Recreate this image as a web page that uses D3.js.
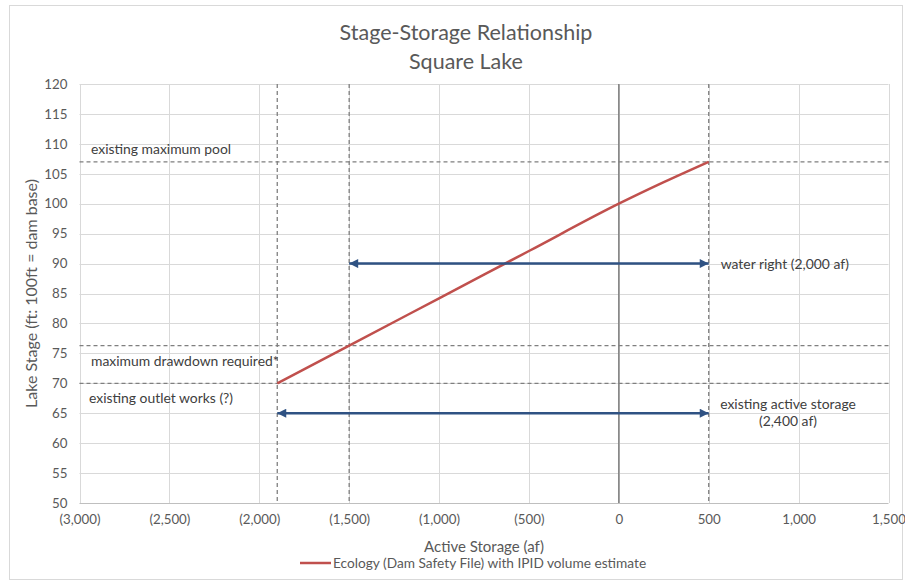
<!DOCTYPE html>
<html><head><meta charset="utf-8">
<script src="https://cdn.jsdelivr.net/npm/d3@7"></script>
<style>body{margin:0;background:#fff}svg{display:block;font-family:Lato,"Open Sans",sans-serif}</style>
</head><body><svg id="c" width="905" height="581"></svg>
<script>
// Data
const storage = [-1900, -1500, -1000, -500, 0, 250, 500];
const stage   = [70, 76.3, 84.2, 92.1, 100, 103.6, 107];
const xTicks = [-3000, -2500, -2000, -1500, -1000, -500, 0, 500, 1000, 1500];
const yTicks = [50, 55, 60, 65, 70, 75, 80, 85, 90, 95, 100, 105, 110, 115, 120];
const vRefs = [-1900, -1500, 500];
const hRefs = [107, 76.3, 70];
const hRefLabels = ["existing maximum pool", "maximum drawdown required*", "existing outlet works (?)"];
const arrows = [{x0: -1500, x1: 500, y: 90}, {x0: -1900, x1: 500, y: 65}];
const seriesName = "Ecology (Dam Safety File) with IPID volume estimate";

const svg = d3.select("#c");
const L = 79.5, R = 888.5, T = 84, B = 503;
const x = d3.scaleLinear().domain([-3000, 1500]).range([L, R]);
const y = d3.scaleLinear().domain([50, 120]).range([B, T]);
const fmt = v => v < 0 ? "(" + d3.format(",")(-v) + ")" : d3.format(",")(v);

// outer border
svg.append("rect").attr("x", 9.5).attr("y", 5.5).attr("width", 893).attr("height", 574)
  .attr("fill", "#fff").attr("stroke", "#d9d9d9");

// title
svg.append("text").attr("x", 466).attr("y", 40).attr("text-anchor", "middle")
  .attr("font-size", 21.5).attr("fill", "#595959").text("Stage-Storage Relationship");
svg.append("text").attr("x", 466).attr("y", 69).attr("text-anchor", "middle")
  .attr("font-size", 21.5).attr("fill", "#595959").text("Square Lake");

// gridlines
const g = svg.append("g");
g.selectAll(".hg").data(yTicks).join("line")
  .attr("x1", L).attr("x2", R).attr("y1", d => Math.round(y(d)) + 0.5).attr("y2", d => Math.round(y(d)) + 0.5)
  .attr("stroke", d => d === 50 ? "#bfbfbf" : "#d9d9d9");
g.selectAll(".vg").data(xTicks).join("line")
  .attr("y1", T).attr("y2", B).attr("x1", d => Math.round(x(d)) + 0.5).attr("x2", d => Math.round(x(d)) + 0.5)
  .attr("stroke", "#d9d9d9");

// axes via d3
const xAxis = d3.axisBottom(x).tickValues(xTicks).tickFormat(fmt).tickSize(0).tickPadding(12);
const ax = svg.append("g").attr("transform", `translate(0,${B})`).call(xAxis);
ax.select(".domain").remove();
ax.selectAll("text").attr("font-size", 13.3).attr("fill", "#595959").attr("font-family", "Lato");
const yAxis = d3.axisLeft(y).tickValues(yTicks).tickSize(0).tickPadding(12);
const ay = svg.append("g").attr("transform", `translate(${L},0)`).call(yAxis);
ay.select(".domain").remove();
ay.selectAll("text").attr("font-size", 13.3).attr("fill", "#595959").attr("font-family", "Lato");

// zero line
svg.append("line").attr("x1", x(0)).attr("x2", x(0)).attr("y1", T).attr("y2", B)
  .attr("stroke", "#7f7f7f").attr("stroke-width", 1.5);

// reference dashed lines
svg.selectAll(".vr").data(vRefs).join("line")
  .attr("x1", d => x(d)).attr("x2", d => x(d)).attr("y1", T).attr("y2", B)
  .attr("stroke", "#7f7f7f").attr("stroke-width", 1.3).attr("stroke-dasharray", "4,3");
svg.selectAll(".hr").data(hRefs).join("line")
  .attr("x1", L).attr("x2", R).attr("y1", d => y(d)).attr("y2", d => y(d))
  .attr("stroke", "#7f7f7f").attr("stroke-width", 1.3).attr("stroke-dasharray", "4,3");

// series
const pts = storage.map((s, i) => [s, stage[i]]);
svg.append("path").datum(pts)
  .attr("d", d3.line().x(d => x(d[0])).y(d => y(d[1])).curve(d3.curveMonotoneX))
  .attr("fill", "none").attr("stroke", "#c0504d").attr("stroke-width", 2.5);

// arrows
const defs = svg.append("defs");
["s", "e"].forEach(k => {
  defs.append("marker").attr("id", "ah" + k).attr("viewBox", "0 0 10 10")
    .attr("refX", 10).attr("refY", 5).attr("markerWidth", 4).attr("markerHeight", 3.6)
    .attr("orient", k === "e" ? "auto" : "auto-start-reverse")
    .append("path").attr("d", "M0,0L10,5L0,10z").attr("fill", "#2f5283");
});
svg.selectAll(".ar").data(arrows).join("line")
  .attr("x1", d => x(d.x0)).attr("x2", d => x(d.x1)).attr("y1", d => y(d.y)).attr("y2", d => y(d.y))
  .attr("stroke", "#2f5283").attr("stroke-width", 2.5)
  .attr("marker-start", "url(#ahs)").attr("marker-end", "url(#ahe)");

// annotation labels
const lab = (t, xx, yy, anchor) => svg.append("text").attr("x", xx).attr("y", yy)
  .attr("text-anchor", anchor || "start").attr("font-size", 13.9).attr("fill", "#404040").text(t);
lab(hRefLabels[0], 91, y(hRefs[0]) - 8);
lab(hRefLabels[1], 91, y(hRefs[1]) + 20);
lab(hRefLabels[2], 89, y(hRefs[2]) + 20);
lab("water right (2,000 af)", x(500) + 12, y(90) + 5);
lab("existing active storage", 788, y(65) - 4, "middle");
lab("(2,400 af)", 788, y(65) + 13, "middle");

// axis titles
svg.append("text").attr("x", (L + R) / 2).attr("y", 552).attr("text-anchor", "middle")
  .attr("font-size", 15).attr("fill", "#595959").text("Active Storage (af)");
svg.append("text").attr("transform", `translate(37,${(T + B) / 2}) rotate(-90)`).attr("text-anchor", "middle")
  .attr("font-size", 16).attr("fill", "#595959").text("Lake Stage (ft: 100ft = dam base)");

// legend
svg.append("line").attr("x1", 300).attr("x2", 331).attr("y1", 563).attr("y2", 563)
  .attr("stroke", "#c0504d").attr("stroke-width", 2.5);
svg.append("text").attr("x", 333).attr("y", 567.5).attr("font-size", 13.7).attr("fill", "#595959").text(seriesName);
</script></body></html>
